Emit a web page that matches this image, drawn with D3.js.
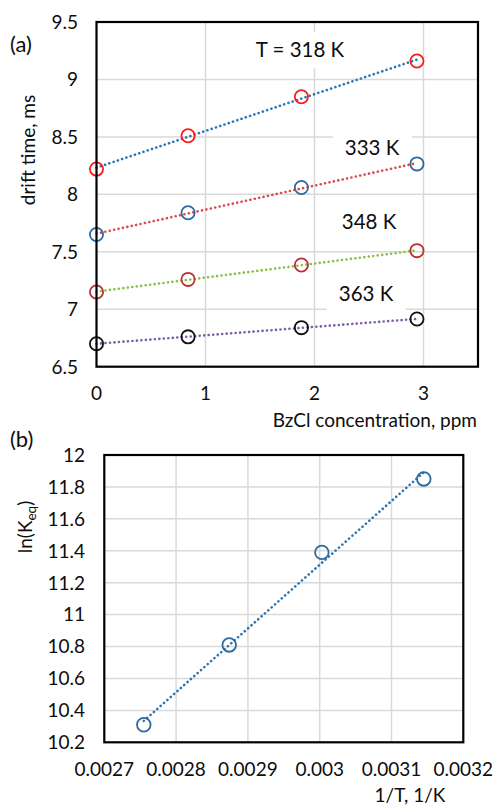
<!DOCTYPE html>
<html>
<head>
<meta charset="utf-8">
<script src="https://cdn.jsdelivr.net/npm/d3@7"></script>
<style>
  html, body { margin: 0; padding: 0; background: #fff; }
  svg { display: block; font-family: Lato, "Open Sans", sans-serif; }
</style>
</head>
<body>
<svg id="chart" width="495" height="805"></svg>
<script>
// ---- (a) drift time vs. BzCl concentration ----
const concentration = [0, 0.84, 1.88, 2.94];      // ppm
const drift318 = [8.22, 8.51, 8.85, 9.16];        // ms
const drift333 = [7.65, 7.84, 8.06, 8.265];
const drift348 = [7.15, 7.26, 7.385, 7.51];
const drift363 = [6.70, 6.76, 6.84, 6.915];
const seriesLabels = ["T = 318 K", "333 K", "348 K", "363 K"];
const driftTicks = [6.5, 7, 7.5, 8, 8.5, 9, 9.5];
const concTicks = [0, 1, 2, 3];

// ---- (b) van 't Hoff plot ----
const invT = [0.002755, 0.002874, 0.003003, 0.003145]; // 1/K
const lnKeq = [10.31, 10.81, 11.39, 11.85];
const lnKTicks = [10.2, 10.4, 10.6, 10.8, 11, 11.2, 11.4, 11.6, 11.8, 12];
const invTTicks = [0.0027, 0.0028, 0.0029, 0.003, 0.0031, 0.0032];
const invTTickLabels = ["0.0027", "0.0028", "0.0029", "0.003", "0.0031", "0.0032"];

const svg = d3.select("#chart");
const GRID = "#d9d9d9";
const INK = "#0d0d0d";
const FS = 19;

function linearFit(xs, ys) {
  const n = xs.length;
  const mx = d3.mean(xs), my = d3.mean(ys);
  let sxy = 0, sxx = 0;
  for (let i = 0; i < n; i++) {
    sxy += (xs[i] - mx) * (ys[i] - my);
    sxx += (xs[i] - mx) * (xs[i] - mx);
  }
  const slope = sxy / sxx;
  return { slope, intercept: my - slope * mx };
}

function frame(g, x, y, xGrid, yGrid) {
  const [x0, x1] = x.range();
  const [y1, y0] = y.range();
  g.append("g").selectAll("line").data(yGrid).join("line")
    .attr("x1", x0).attr("x2", x1)
    .attr("y1", d => y(d)).attr("y2", d => y(d))
    .attr("stroke", GRID).attr("stroke-width", 1.5);
  g.append("g").selectAll("line").data(xGrid).join("line")
    .attr("y1", y0).attr("y2", y1)
    .attr("x1", d => x(d)).attr("x2", d => x(d))
    .attr("stroke", GRID).attr("stroke-width", 1.5);
}

function border(g, x, y) {
  const [x0, x1] = x.range();
  const [y1, y0] = y.range();
  g.append("rect")
    .attr("x", x0).attr("y", y0)
    .attr("width", x1 - x0).attr("height", y1 - y0)
    .attr("fill", "none").attr("stroke", "#000").attr("stroke-width", 2.2);
}

function dotted(g, color) {
  return g.append("path")
    .attr("fill", "none")
    .attr("stroke", color)
    .attr("stroke-width", 2.6)
    .attr("stroke-linecap", "round")
    .attr("stroke-dasharray", "0.1 4.4");
}

// ================= Panel (a) =================
{
  const x = d3.scaleLinear().domain([0, 3.5]).range([96.5, 478]);
  const y = d3.scaleLinear().domain([6.5, 9.5]).range([366.7, 22]);
  const g = svg.append("g");

  frame(g, x, y, [1, 2, 3], [7, 7.5, 8, 8.5, 9]);

  const series = [
    { values: drift318, line: "#2e75b6", marker: "#ff1a1a", label: seriesLabels[0], lx: 300, ly: 50 },
    { values: drift333, line: "#dc4c4c", marker: "#2e6a9e", label: seriesLabels[1], lx: 372, ly: 148 },
    { values: drift348, line: "#8cbf4a", marker: "#b83232", label: seriesLabels[2], lx: 369, ly: 222 },
    { values: drift363, line: "#7f5fa8", marker: "#111111", label: seriesLabels[3], lx: 366, ly: 294 }
  ];

  // white label boxes (sit on top of the grid)
  series.forEach(s => {
    const t = g.append("text")
      .attr("x", s.lx).attr("y", s.ly).attr("dy", "0.36em")
      .attr("text-anchor", "middle").attr("font-size", 20.5).attr("fill", INK)
      .text(s.label);
    const bb = t.node().getBBox();
    g.insert("rect", "text")
      .attr("x", bb.x - 12).attr("y", s.ly - 18)
      .attr("width", bb.width + 24).attr("height", 36)
      .attr("fill", "#fff");
  });

  const xEnd = d3.max(concentration);
  series.forEach(s => {
    const fit = linearFit(concentration, s.values);
    dotted(g, s.line).attr("d", d3.line()([
      [x(0), y(fit.intercept)],
      [x(xEnd), y(fit.intercept + fit.slope * xEnd)]
    ]));
  });
  series.forEach(s => {
    g.append("g").selectAll("circle").data(s.values).join("circle")
      .attr("cx", (d, i) => x(concentration[i]))
      .attr("cy", d => y(d))
      .attr("r", 6.6)
      .attr("fill", "none").attr("stroke", s.marker).attr("stroke-width", 1.8);
  });

  border(g, x, y);

  g.append("g").selectAll("text").data(driftTicks).join("text")
    .attr("x", 78).attr("y", d => y(d)).attr("dy", "0.36em")
    .attr("text-anchor", "end").attr("font-size", FS).attr("fill", INK)
    .text(d => d3.format("~g")(d));
  g.append("g").selectAll("text").data(concTicks).join("text")
    .attr("x", d => x(d)).attr("y", 400)
    .attr("text-anchor", "middle").attr("font-size", FS).attr("fill", INK)
    .text(d => d);

  g.append("text").attr("x", 477).attr("y", 427)
    .attr("text-anchor", "end").attr("font-size", FS).attr("fill", INK)
    .text("BzCl concentration, ppm");
  g.append("text").attr("transform", "translate(35,150) rotate(-90)")
    .attr("text-anchor", "middle").attr("font-size", FS).attr("fill", INK)
    .text("drift time, ms");
  g.append("text").attr("x", 10).attr("y", 52)
    .attr("font-size", 22).attr("fill", INK).text("(a)");
}

// ================= Panel (b) =================
{
  const x = d3.scaleLinear().domain([0.0027, 0.0032]).range([104.3, 463.3]);
  const y = d3.scaleLinear().domain([10.2, 12]).range([742.3, 455]);
  const g = svg.append("g");

  frame(g, x, y, invTTicks.slice(1, -1), lnKTicks.slice(1, -1));

  const fit = linearFit(invT, lnKeq);
  const [xa, xb] = d3.extent(invT);
  dotted(g, "#2e75b6").attr("d", d3.line()([
    [x(xa), y(fit.intercept + fit.slope * xa)],
    [x(xb), y(fit.intercept + fit.slope * xb)]
  ]));
  g.append("g").selectAll("circle").data(lnKeq).join("circle")
    .attr("cx", (d, i) => x(invT[i]))
    .attr("cy", d => y(d))
    .attr("r", 6.8)
    .attr("fill", "none").attr("stroke", "#2e6a9e").attr("stroke-width", 1.8);

  border(g, x, y);

  g.append("g").selectAll("text").data(lnKTicks).join("text")
    .attr("x", 85).attr("y", d => y(d)).attr("dy", "0.36em")
    .attr("text-anchor", "end").attr("font-size", FS).attr("fill", INK)
    .text(d => d3.format("~g")(d));
  g.append("g").selectAll("text").data(invTTicks).join("text")
    .attr("x", d => x(d)).attr("y", 776)
    .attr("text-anchor", "middle").attr("font-size", FS).attr("fill", INK)
    .text((d, i) => invTTickLabels[i]);

  g.append("text").attr("x", 410).attr("y", 802)
    .attr("text-anchor", "middle").attr("font-size", FS).attr("fill", INK)
    .text("1/T, 1/K");
  const yl = g.append("text").attr("transform", "translate(32,527) rotate(-90)")
    .attr("text-anchor", "middle").attr("font-size", FS).attr("fill", INK);
  yl.append("tspan").text("ln(K");
  yl.append("tspan").attr("font-size", 13.5).attr("dy", 4).text("eq");
  yl.append("tspan").attr("dy", -4).text(")");
  g.append("text").attr("x", 10).attr("y", 447)
    .attr("font-size", 22).attr("fill", INK).text("(b)");
}
</script>
</body>
</html>
